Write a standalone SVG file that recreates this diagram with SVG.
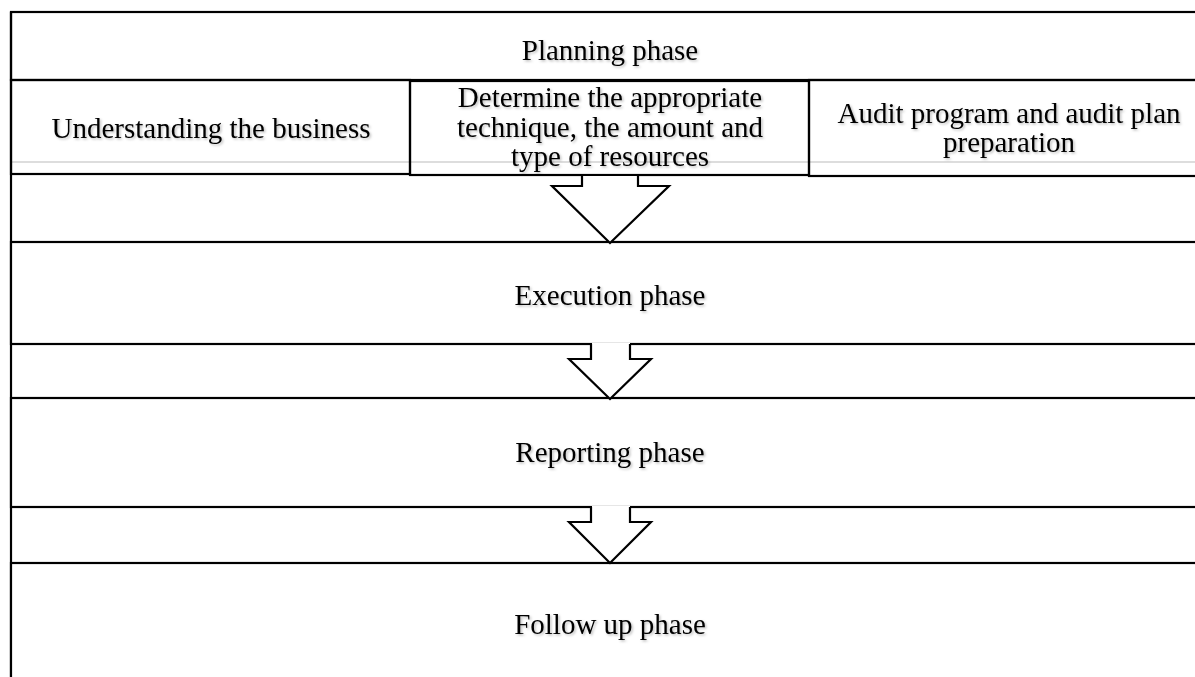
<svg xmlns="http://www.w3.org/2000/svg" width="1195" height="677" viewBox="0 0 1195 677">
<defs>
<filter id="sh" x="-5%" y="-20%" width="110%" height="140%">
<feDropShadow dx="1.5" dy="1.5" stdDeviation="1" flood-color="#000" flood-opacity="0.25"/>
</filter>
<style>
.box{fill:#fff;stroke:#000;stroke-width:2.2}
.ln{stroke:#000;stroke-width:2.2;fill:none}
.t{font-family:"Liberation Serif","Times New Roman",serif;font-size:29px;fill:#000;text-anchor:middle;filter:url(#sh)}
.arr{fill:#fff;stroke:#000;stroke-width:2.2;stroke-linejoin:miter}
</style>
</defs>
<rect width="1195" height="677" fill="#fff"/>
<g id="planning">
<rect class="box" x="11" y="12" width="1200" height="68"/>
<text class="t" x="610" y="60">Planning phase</text>
</g>
<line x1="11" y1="162" x2="1195" y2="162" stroke="#ddd" stroke-width="2"/>
<g id="understanding">
<rect class="box" x="11" y="80" width="399" height="94" fill-opacity="0"/>
<text class="t" x="211" y="138">Understanding the business</text>
</g>
<g id="determine">
<rect class="box" x="410" y="81" width="399" height="94" fill-opacity="0"/>
<text class="t" x="610" y="107">Determine the appropriate</text>
<text class="t" x="610" y="137">technique, the amount and</text>
<text class="t" x="610" y="166">type of resources</text>
</g>
<g id="audit">
<rect class="box" x="809" y="80" width="400" height="96" fill-opacity="0"/>
<text class="t" x="1009" y="123">Audit program and audit plan</text>
<text class="t" x="1009" y="152">preparation</text>
</g>
<line class="ln" x1="11" y1="12" x2="11" y2="677"/>
<g id="execution">
<rect class="box" x="11" y="242" width="1200" height="102"/>
<text class="t" x="610" y="305">Execution phase</text>
</g>
<g id="reporting">
<rect class="box" x="11" y="398" width="1200" height="109"/>
<text class="t" x="610" y="462">Reporting phase</text>
</g>
<g id="followup">
<rect class="box" x="11" y="563" width="1200" height="130"/>
<text class="t" x="610" y="634">Follow up phase</text>
</g>
<g id="connectors">
<polyline class="arr" points="582,176 582,186 552,186 610,243 669,186 638,186 638,176"/>
<polygon points="592,343 592,359 570,359 610,398 650,359 630,359 630,343" fill="#fff"/>
<polyline class="arr" points="591,344 591,359 569,359 610,399 651,359 630,359 630,344"/>
<polygon points="592,506 592,522 570,522 610,562 650,522 630,522 630,506" fill="#fff"/>
<polyline class="arr" points="591,507 591,522 569,522 610,563 651,522 630,522 630,507"/>
</g>
</svg>
